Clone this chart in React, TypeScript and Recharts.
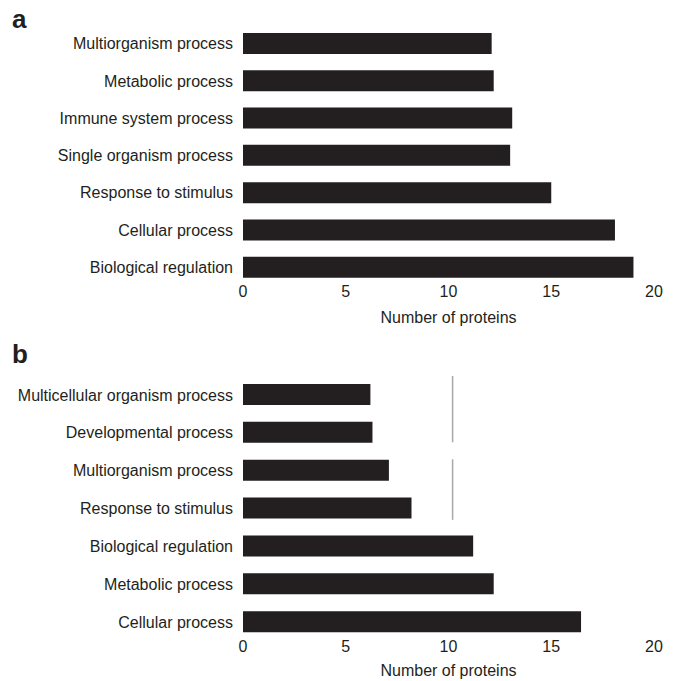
import { BarChart, Bar, XAxis, YAxis, Label, ScatterChart, Scatter } from 'recharts';

// Panel a: GO biological process terms
const termsA = [
  'Multiorganism process',
  'Metabolic process',
  'Immune system process',
  'Single organism process',
  'Response to stimulus',
  'Cellular process',
  'Biological regulation',
];
const countsA = [12.1, 12.2, 13.1, 13.0, 15.0, 18.1, 19.0];

// Panel b
const termsB = [
  'Multicellular organism process',
  'Developmental process',
  'Multiorganism process',
  'Response to stimulus',
  'Biological regulation',
  'Metabolic process',
  'Cellular process',
];
const countsB = [6.2, 6.3, 7.1, 8.2, 11.2, 12.2, 16.45];

const xTicks = [0, 5, 10, 15, 20];
// leftover gridline pieces near x = 10 in panel b, in band units from the top
const stubX = 10.2;
const gridStubsB = [
  [0.0, 1.75],
  [2.2, 3.8],
];

const FONT = '"Liberation Sans", Arial, Helvetica, sans-serif';
const INK = '#231f20';

interface PanelProps {
  letter: string;
  letterTop: number;
  terms: string[];
  counts: number[];
  top: number;
  height: number;
  marginTop: number;
  axisHeight: number;
  titleOffset: number;
  stubs?: number[][];
}

function Panel({ letter, letterTop, terms, counts, top, height, marginTop, axisHeight, titleOffset, stubs }: PanelProps) {
  const data = terms.map((name, i) => ({ name, count: counts[i] }));
  const bottom = 4;

  return (
    <div style={{ position: 'absolute', left: 0, top, width: 679, height }}>
      <div
        style={{
          position: 'absolute',
          left: 12,
          top: letterTop,
          fontFamily: FONT,
          fontWeight: 'bold',
          fontSize: 26,
          lineHeight: '26px',
          color: INK,
        }}
      >
        {letter}
      </div>
      <BarChart
        width={679}
        height={height}
        data={data}
        layout="vertical"
        margin={{ top: marginTop, right: 25, bottom, left: 0 }}
      >
        <XAxis
          type="number"
          domain={[0, 20]}
          ticks={xTicks}
          axisLine={false}
          tickLine={false}
          tickSize={0}
          tickMargin={0}
          height={axisHeight}
          tick={{ fill: INK, fontSize: 16, fontFamily: FONT }}
        >
          <Label
            value="Number of proteins"
            position="insideTop"
            offset={titleOffset}
            fill={INK}
            fontSize={16}
            fontFamily={FONT}
          />
        </XAxis>
        <YAxis
          type="category"
          dataKey="name"
          width={243}
          axisLine={false}
          tickLine={false}
          tickMargin={4}
          interval={0}
          tick={{ fill: INK, fontSize: 16, fontFamily: FONT }}
        />
        <Bar dataKey="count" fill={INK} barSize={21} isAnimationActive={false} />
      </BarChart>
      {stubs && (
        <div style={{ position: 'absolute', left: 0, top: 0, pointerEvents: 'none' }}>
          <ScatterChart
            width={679}
            height={height}
            margin={{ top: marginTop, right: 25, bottom: bottom + axisHeight, left: 243 }}
          >
            <XAxis type="number" dataKey="x" domain={[0, 20]} hide />
            <YAxis type="number" dataKey="y" domain={[0, terms.length]} reversed hide />
            {stubs.map((s, i) => (
              <Scatter
                key={i}
                data={[
                  { x: stubX, y: s[0] },
                  { x: stubX, y: s[1] },
                ]}
                line={{ stroke: '#a8a8a8', strokeWidth: 1.5 }}
                shape={() => <g />}
                isAnimationActive={false}
              />
            ))}
          </ScatterChart>
        </div>
      )}
    </div>
  );
}

export default function App() {
  return (
    <div style={{ position: 'absolute', left: 0, top: 0, width: 679, height: 681, background: '#fff' }}>
      <Panel
        letter="a"
        letterTop={6}
        terms={termsA}
        counts={countsA}
        top={0}
        height={340}
        marginTop={25}
        axisHeight={50}
        titleOffset={26}
      />
      <Panel
        letter="b"
        letterTop={1}
        terms={termsB}
        counts={countsB}
        top={340}
        height={341}
        marginTop={36}
        axisHeight={36}
        titleOffset={24}
        stubs={gridStubsB}
      />
    </div>
  );
}
